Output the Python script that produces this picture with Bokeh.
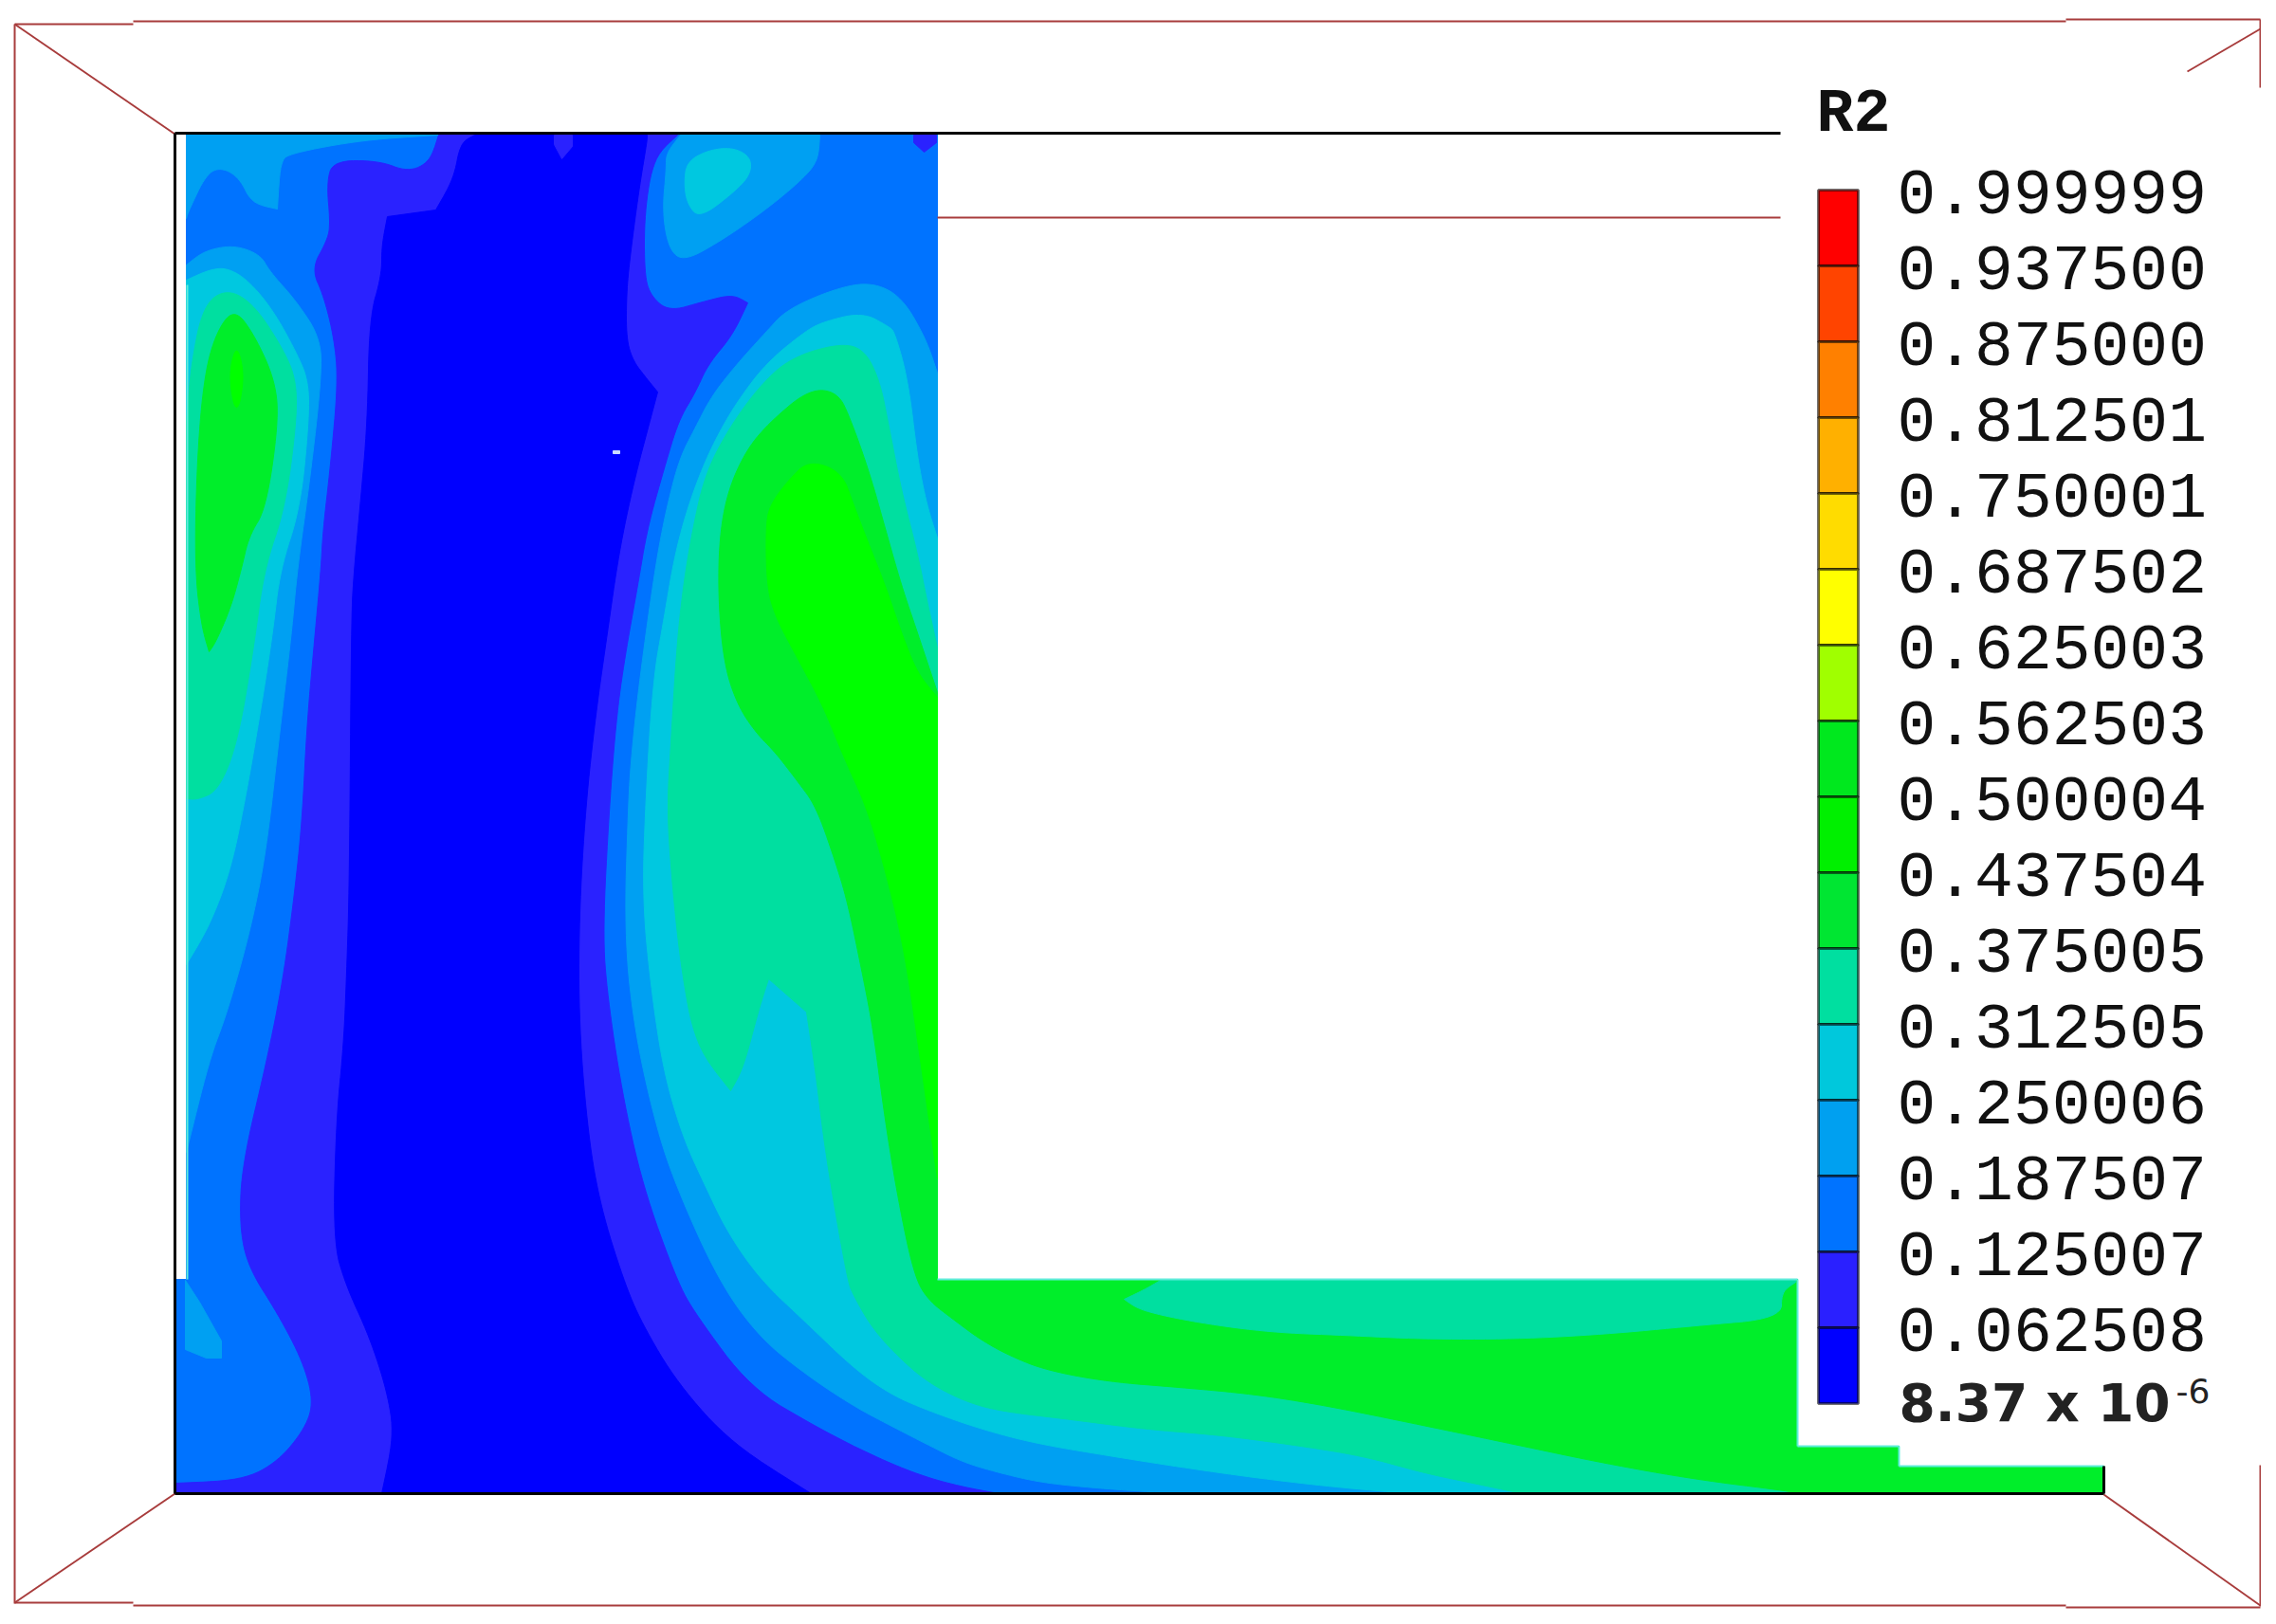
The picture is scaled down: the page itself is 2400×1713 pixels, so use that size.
from bokeh.plotting import figure
from bokeh.models import Range1d
from bokeh.core.properties import value
from bokeh.embed import file_html
from bokeh.resources import INLINE

# ---- legend ----
legend_labels = ["0.999999", "0.937500", "0.875000", "0.812501", "0.750001", "0.687502",
                 "0.625003", "0.562503", "0.500004", "0.437504", "0.375005", "0.312505",
                 "0.250006", "0.187507", "0.125007", "0.062508"]
legend_min_text = "8.37 x 10"
legend_min_exp = "-6"
legend_title = "R2"
legend_colors = ["#ff0000", "#ff4400", "#ff8000", "#ffb000", "#ffdc00", "#ffff00", "#a0ff00", "#00e81e",
                 "#00f000", "#00e632", "#00dfa0", "#00c8dc", "#00a0f0", "#0073ff", "#2a20ff", "#0000ff"]

BAND0, BAND1, BAND2, BAND3, BAND4, BAND5, BAND6, BAND7 = (
    "#0000ff", "#2a22ff", "#0073ff", "#00a0f2", "#00c8e0", "#00dfa0", "#00ee2a", "#00ff00")

# ---- outline of the domain ----
plate = [(196, 141), (988, 141), (988, 1349), (1895, 1349), (1895, 1525), (2002, 1525), (2002, 1546),
         (2218, 1546), (2218, 1575), (184, 1575), (184, 1349), (196, 1349)]

# ---- contour bands ----
corner_band3 = [(196, 142), (462, 142), (383, 147), (306, 161), (295, 170), (292, 220), (265, 214),
                (252, 187), (233, 176), (217, 183), (198, 223), (196, 230)]

column_band1 = [(462, 142), (453, 170), (430, 181), (399, 169), (351, 169), (344, 192), (348, 237), (344, 254),
                (328, 283), (341, 312), (352, 357), (356, 402), (348, 491), (340, 560), (338, 600), (330, 687),
                (323, 767), (318, 867), (310, 943), (298, 1033), (281, 1118), (255, 1227), (252, 1291), (261, 1336),
                (293, 1386), (319, 1436), (330, 1477), (322, 1505), (293, 1541), (255, 1561), (184, 1564), (184, 1575),
                (1053, 1575), (1015, 1568), (977, 1558), (938, 1543), (900, 1525), (861, 1505), (791, 1464), (733, 1386),
                (713, 1350), (677, 1250), (655, 1150), (640, 1050), (635, 983), (642, 850), (650, 750), (660, 683),
                (672, 617), (682, 557), (700, 493), (715, 443), (733, 413), (746, 384), (772, 353), (788, 319),
                (772, 310), (740, 318), (705, 328), (686, 312), (679, 290), (679, 223), (689, 165), (714, 142)]

column_band0 = [(500, 142), (485, 150), (478, 188), (459, 221), (408, 228), (402, 259), (402, 290), (389, 335),
                (387, 446), (379, 536), (373, 600), (370, 650), (368, 933), (365, 1027), (362, 1100), (354, 1182),
                (351, 1309), (364, 1355), (389, 1409), (408, 1468), (415, 1514), (402, 1575),
                (855, 1575), (772, 1523), (714, 1459), (676, 1395), (657, 1350), (633, 1273), (620, 1200), (610, 1083),
                (610, 967), (617, 850), (628, 750), (640, 667), (652, 583), (668, 507), (685, 443), (693, 413),
                (680, 397), (667, 380), (660, 357), (660, 313), (663, 277), (673, 201), (682, 147), (682, 142)]

blip_top_mid = [(584, 142), (603, 142), (603, 154), (592, 167), (584, 152)]
blip_top_right = [(963, 142), (987, 142), (987, 150), (974, 160), (963, 150)]
speck = [(646, 475), (653, 475), (653, 478), (646, 478)]

left_band3 = [(196, 279), (215, 264), (246, 258), (274, 268), (284, 286), (312, 317), (338, 357), (338, 402), (327, 500),
              (313, 600), (307, 667), (295, 767), (280, 900), (263, 983), (239, 1068), (220, 1118), (196, 1215)]
left_band4 = [(196, 295), (220, 284), (239, 282), (261, 295), (287, 326), (312, 371), (325, 402), (325, 446), (316, 536),
              (295, 600), (287, 667), (277, 733), (260, 833), (243, 917), (220, 977), (196, 1017)]
left_band5 = [(196, 446), (201, 384), (214, 321), (239, 304), (268, 321), (300, 371), (312, 402), (312, 446), (300, 536),
              (278, 600), (267, 683), (250, 783), (230, 833), (208, 843), (196, 842)]
left_band6 = [(246, 324), (268, 353), (290, 402), (293, 446), (280, 536), (262, 565), (254, 600), (243, 640), (227, 677),
              (220, 687), (212, 660), (205, 600), (207, 491), (214, 402), (226, 353)]
left_band7 = [(249, 362), (257, 393), (252, 429), (246, 429), (241, 393)]
lower_left_band3 = [(195, 1350), (210, 1373), (233, 1414), (233, 1432), (217, 1432), (195, 1423)]

bump_band3 = [(717, 142), (864, 142), (862, 170), (842, 192), (804, 223), (759, 254), (721, 275), (705, 263),
              (698, 223), (702, 179), (702, 161)]
bump_band4 = [(724, 170), (746, 158), (772, 155), (791, 165), (791, 183), (775, 201), (737, 230), (724, 214), (721, 192)]

plume_band3 = [(918, 297), (880, 304), (829, 326), (807, 350), (777, 383), (750, 417), (733, 450), (716, 483), (703, 533),
               (693, 583), (683, 650), (672, 733), (665, 800), (662, 850), (658, 983), (668, 1083), (690, 1183),
               (712, 1250), (757, 1350), (800, 1410), (850, 1450), (900, 1483), (938, 1503), (977, 1523), (1015, 1542),
               (1053, 1553), (1091, 1562), (1130, 1567), (1206, 1573), (1264, 1575), (1895, 1575), (1895, 1349),
               (988, 1349), (988, 393), (976, 357), (950, 312)]
plume_band4 = [(909, 329), (867, 339), (847, 350), (807, 383), (777, 423), (757, 457), (740, 493), (723, 540), (710, 590),
               (700, 650), (688, 717), (680, 850), (677, 950), (687, 1050), (700, 1133), (720, 1200), (743, 1250),
               (767, 1300), (802, 1350), (850, 1395), (900, 1443), (938, 1470), (977, 1487), (1034, 1507), (1091, 1522),
               (1168, 1535), (1244, 1547), (1321, 1558), (1397, 1567), (1463, 1573), (1490, 1575), (1895, 1575),
               (1895, 1349), (988, 1349), (988, 567), (977, 533), (967, 483), (957, 400), (943, 350), (937, 344)]
plume_band5 = [(883, 362), (833, 377), (800, 407), (767, 453), (743, 500), (730, 557), (720, 617), (713, 683), (707, 783),
               (703, 850), (707, 917), (717, 1017), (733, 1103), (770, 1150), (783, 1127), (800, 1063), (810, 1032),
               (850, 1067), (860, 1133), (870, 1217), (893, 1350), (900, 1367), (919, 1400), (946, 1430), (977, 1457),
               (1015, 1477), (1053, 1488), (1130, 1497), (1206, 1507), (1283, 1513), (1359, 1523), (1436, 1535),
               (1500, 1553), (1548, 1563), (1605, 1575), (1895, 1575), (1895, 1349), (988, 1349), (988, 683), (977, 633),
               (967, 583), (950, 517), (937, 450), (927, 400), (910, 367)]
plume_band6 = [(853, 410), (813, 443), (787, 473), (767, 517), (758, 567), (757, 633), (763, 700), (777, 743), (797, 773),
               (817, 793), (840, 823), (860, 850), (880, 907), (893, 950), (907, 1017), (920, 1083), (933, 1183),
               (947, 1267), (963, 1343), (977, 1370), (1007, 1393), (1034, 1413), (1065, 1430), (1103, 1445), (1168, 1457),
               (1244, 1463), (1321, 1470), (1397, 1482), (1500, 1503), (1596, 1523), (1691, 1543), (1787, 1560),
               (1883, 1572), (1897, 1575), (2218, 1575), (2218, 1546), (2002, 1546), (2002, 1525), (1895, 1525),
               (1895, 1349), (988, 1349), (988, 730), (967, 667), (950, 617), (933, 557), (917, 500), (897, 443), (883, 413)]
plume_band7 = [(852, 485), (830, 507), (813, 530), (807, 550), (808, 617), (817, 650), (840, 693), (867, 743), (890, 800),
               (913, 850), (933, 917), (953, 1000), (970, 1117), (988, 1243), (988, 735), (967, 710), (950, 667),
               (933, 617), (917, 577), (900, 533), (887, 497)]
channel_band5 = [(1225, 1349), (1206, 1360), (1185, 1370), (1202, 1382), (1264, 1395), (1340, 1405), (1417, 1408),
                 (1500, 1412), (1596, 1412), (1691, 1407), (1787, 1398), (1878, 1390), (1878, 1362), (1893, 1352), (1893, 1349)]

layers = [
    (plate, BAND2, False), (corner_band3, BAND3, True), (column_band1, BAND1, True), (column_band0, BAND0, True),
    (blip_top_mid, BAND1, False), (blip_top_right, BAND1, False), (speck, "#c8d8ff", False),
    (left_band3, BAND3, True), (left_band4, BAND4, True), (left_band5, BAND5, True), (left_band6, BAND6, True),
    (left_band7, BAND7, True), (lower_left_band3, BAND3, False), (bump_band3, BAND3, True), (bump_band4, BAND4, True),
    (plume_band3, BAND3, True), (plume_band4, BAND4, True), (plume_band5, BAND5, True), (plume_band6, BAND6, True),
    (plume_band7, BAND7, True), (channel_band5, BAND5, True),
]

# vertices that stay sharp when a contour outline is rounded
sharp_corners = {(770, 1150), (810, 1032), (850, 1067), (1185, 1370), (220, 687), (292, 220), (788, 319),
                 (693, 413), (408, 228), (459, 221)}
edge_xs = {184, 195, 196, 987, 988, 1895, 1893, 2002, 2218}
edge_ys = {141, 142, 1349, 1525, 1546, 1575}

# ---- thin edge lines ----
frame_lines = [
    [(15, 25), (15, 1691)], [(15, 25), (140, 25)], [(140, 22), (2178, 22)], [(2178, 20), (2383, 20)],
    [(2383, 20), (2383, 92)], [(2383, 1545), (2383, 1694)], [(15, 1690), (140, 1690)], [(140, 1693), (2178, 1693)],
    [(2178, 1695), (2383, 1695)], [(15, 25), (184, 141)], [(15, 1690), (184, 1575)], [(2218, 1576), (2383, 1693)],
    [(2383, 30), (2306, 75)], [(988, 229), (1877, 229)],
]
black_lines = [
    [(184, 140), (1877, 140)], [(184, 140), (184, 1575)], [(184, 1575), (2218, 1575)], [(2218, 1546), (2218, 1575)],
]
cyan_edges = [
    [(197, 300), (197, 1349)], [(988, 1349), (1895, 1349)], [(1895, 1349), (1895, 1525)], [(1895, 1525), (2002, 1525)],
    [(2002, 1525), (2002, 1546)], [(2002, 1546), (2218, 1546)],
]


def xs(pts):
    return [q[0] for q in pts]


def ys(pts):
    return [q[1] for q in pts]


def pinned(q):
    return q in sharp_corners or q[0] in edge_xs or q[1] in edge_ys


def rounded(pts, rounds=3):
    """Corner-cutting of a closed outline; vertices on the domain edge stay where they are."""
    cur = [(q[0], q[1], pinned(q)) for q in pts]
    for _ in range(rounds):
        out = []
        m = len(cur)
        for i in range(m):
            a = cur[i]
            b = cur[(i + 1) % m]
            if a[2]:
                out.append(a)
            else:
                out.append((0.75 * a[0] + 0.25 * b[0], 0.75 * a[1] + 0.25 * b[1], False))
            if not b[2]:
                out.append((0.25 * a[0] + 0.75 * b[0], 0.25 * a[1] + 0.75 * b[1], False))
        cur = out
    return [(q[0], q[1]) for q in cur]


p = figure(width=2384, height=1697, x_range=Range1d(0, 2384), y_range=Range1d(1697, 0),
           output_backend="svg", toolbar_location=None, min_border=0, outline_line_color=None,
           background_fill_color="white", border_fill_color="white")
p.axis.visible = False
p.grid.visible = False

for pts, col, soft in layers:
    outline = rounded(pts) if soft else pts
    p.patch(xs(outline), ys(outline), fill_color=col, line_color=col, line_width=1)

p.multi_line([xs(s) for s in cyan_edges], [ys(s) for s in cyan_edges], line_color="#60ecdc", line_width=2)
p.multi_line([xs(s) for s in frame_lines], [ys(s) for s in frame_lines], line_color="#a83c3c", line_width=2)
p.multi_line([xs(s) for s in black_lines], [ys(s) for s in black_lines], line_color="black", line_width=3)

# colour bar
BAR_L, BAR_R, BAR_TOP, STEP = 1917, 1959, 200, 80
n = len(legend_colors)
tops = [BAR_TOP + i * STEP for i in range(n)]
p.quad(left=BAR_L, right=BAR_R, top=tops, bottom=[t + STEP for t in tops], fill_color=legend_colors,
       line_color="black", line_alpha=0.55, line_width=3)

mono = value("Liberation Mono")
p.text([2000] * n, [t + 2 for t in tops], text=legend_labels, text_font=mono, text_font_size="68px",
       text_baseline="middle", text_align="left", text_color="#111111")
p.text([1915], [120], text=[legend_title], text_font=mono, text_font_size="65px", text_font_style="bold",
       text_baseline="middle", text_align="left", text_color="#111111")
p.text([2002], [1479], text=[legend_min_text], text_font=value("DejaVu Sans"), text_font_size="55px",
       text_font_style="bold", text_baseline="middle", text_align="left", text_color="#222222")
p.text([2294], [1466], text=[legend_min_exp], text_font=value("DejaVu Sans"), text_font_size="36px",
       text_baseline="middle", text_align="left", text_color="#222222")

open("out.html", "w").write(file_html(p, INLINE))
